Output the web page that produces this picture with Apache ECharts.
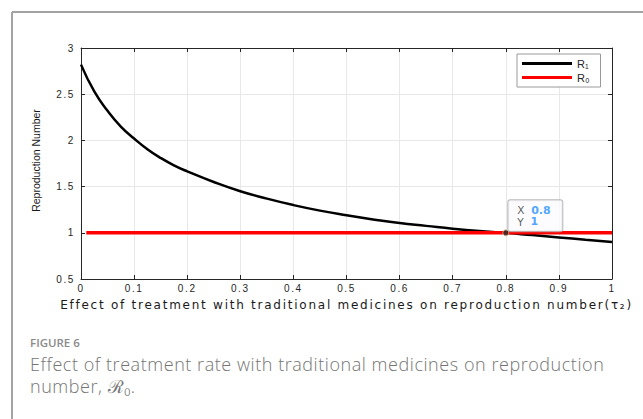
<!DOCTYPE html>
<html>
<head>
<meta charset="utf-8">
<script src="https://cdn.jsdelivr.net/npm/echarts@6/dist/echarts.min.js"></script>
<style>
  html, body { margin: 0; padding: 0; background: #fff; }
  #chart { width: 643px; height: 419px; }
</style>
</head>
<body>
<div id="chart"></div>
<script>
// Treatment effect tau2 and the resulting reproduction number R1
const tauR1 = [0, 0.025, 0.05, 0.075, 0.1, 0.125, 0.15, 0.175, 0.2, 0.25, 0.3, 0.35, 0.4,
               0.45, 0.5, 0.55, 0.6, 0.65, 0.7, 0.75, 0.8, 0.85, 0.9, 0.95, 1];
const r1Values = [2.82, 2.53, 2.32, 2.15, 2.02, 1.905, 1.81, 1.73, 1.665, 1.55, 1.45, 1.37, 1.30,
                  1.24, 1.19, 1.145, 1.105, 1.075, 1.045, 1.02, 1.00, 0.975, 0.95, 0.925, 0.90];
// Baseline reproduction number R0
const tauR0 = [0.01, 1];
const r0Values = [1, 1];
// Data tip marking the crossing point
const tipX = 0.8;
const tipY = 1;

const seriesNames = ['R\u2081', 'R\u2080'];
const xAxisTitle = 'Effect of treatment with traditional medicines on reproduction number(\u03c4\u2082)';
const yAxisTitle = 'Reproduction Number';
const figureLabel = 'FIGURE 6';
const captionLines = ['Effect of treatment rate with traditional medicines on reproduction',
                      'number, \u211b\u2080.'];

const zip = (xs, ys) => xs.map((x, i) => [x, ys[i]]);

// Texts that get extra tracking are picked out by these family lists
const TICK_FAMILY = 'Liberation Sans, Arial, Helvetica, sans-serif';
const XNAME_FAMILY = 'DejaVu Sans, Verdana, sans-serif';
const CAPTION_FAMILY = '"Open Sans", Lato, sans-serif';
const tickFont = { color: '#262626', fontSize: 10, fontFamily: TICK_FAMILY };
const gridColor = '#e8e8e8';

const chart = echarts.init(document.getElementById('chart'), null, { renderer: 'svg' });
chart.setOption({
  animation: false,
  backgroundColor: '#fff',
  grid: { left: 81, top: 48, right: 31, bottom: 140, containLabel: false },
  legend: {
    orient: 'vertical',
    left: 517, top: 54,
    padding: [4, 11, 4, 5],
    itemGap: 3,
    itemWidth: 50, itemHeight: 3,
    icon: 'rect',
    backgroundColor: '#fff',
    borderColor: '#9a9a9a', borderWidth: 1,
    textStyle: { color: '#262626', fontSize: 11, fontFamily: 'Liberation Sans, Arial, sans-serif' },
    data: seriesNames
  },
  xAxis: [{
    type: 'value', min: 0, max: 1, interval: 0.1, position: 'bottom',
    name: xAxisTitle, nameLocation: 'middle', nameGap: 20,
    nameTextStyle: { color: '#1a1a1a', fontSize: 12, fontFamily: XNAME_FAMILY },
    axisLine: { show: true, onZero: false, lineStyle: { color: '#262626', width: 1 } },
    axisTick: { show: true, inside: true, length: 4, lineStyle: { color: '#262626' } },
    axisLabel: Object.assign({ margin: 4 }, tickFont),
    splitLine: { show: true, lineStyle: { color: gridColor, width: 1 } }
  }, {
    type: 'value', min: 0, max: 1, interval: 0.1, position: 'top',
    axisLine: { show: true, onZero: false, lineStyle: { color: '#262626', width: 1 } },
    axisTick: { show: true, inside: true, length: 4, lineStyle: { color: '#262626' } },
    axisLabel: { show: false },
    splitLine: { show: false }
  }],
  yAxis: [{
    type: 'value', min: 0.5, max: 3, interval: 0.5, position: 'left',
    name: yAxisTitle, nameLocation: 'middle', nameGap: 40, nameRotate: 90,
    nameTextStyle: { color: '#1a1a1a', fontSize: 10.5, fontFamily: 'Liberation Sans Narrow, Liberation Sans, Arial, sans-serif',
                     padding: [0, 0, 0, 6] },
    axisLine: { show: true, onZero: false, lineStyle: { color: '#262626', width: 1 } },
    axisTick: { show: true, inside: true, length: 4, lineStyle: { color: '#262626' } },
    axisLabel: Object.assign({ margin: 6 }, tickFont),
    splitLine: { show: true, lineStyle: { color: gridColor, width: 1 } }
  }, {
    type: 'value', min: 0.5, max: 3, interval: 0.5, position: 'right',
    axisLine: { show: true, onZero: false, lineStyle: { color: '#262626', width: 1 } },
    axisTick: { show: true, inside: true, length: 4, lineStyle: { color: '#262626' } },
    axisLabel: { show: false },
    splitLine: { show: false }
  }],
  series: [{
    name: seriesNames[0], type: 'line', xAxisIndex: 0, yAxisIndex: 0,
    data: zip(tauR1, r1Values), smooth: true, showSymbol: false,
    color: '#000', lineStyle: { color: '#000', width: 2.5 }, z: 3
  }, {
    name: seriesNames[1], type: 'line', xAxisIndex: 0, yAxisIndex: 0,
    data: zip(tauR0, r0Values), showSymbol: false,
    color: '#ff0000', lineStyle: { color: '#ff0000', width: 3.5 }, z: 4
  }, {
    name: 'datatip', type: 'scatter', xAxisIndex: 0, yAxisIndex: 0,
    data: [[tipX, tipY]], symbolSize: 6,
    itemStyle: { color: '#2b2b2b', borderColor: '#d9b98a', borderWidth: 1 },
    z: 10,
    label: {
      show: true,
      position: [6, -29],
      backgroundColor: '#fbfbff',
      borderColor: '#a8a8a8', borderWidth: 1, borderRadius: 2,
      padding: [4, 6, 4, 9],
      width: 39,
      lineHeight: 11.5,
      formatter: p => '{k|X}  {v|' + p.value[0] + '}\n{k|Y}  {v|' + p.value[1] + '}',
      rich: {
        k: { color: '#333', fontSize: 10.5, fontFamily: 'DejaVu Sans, sans-serif', lineHeight: 11.5 },
        v: { color: '#1e8fff', fontSize: 11, fontWeight: 'bold', fontFamily: 'DejaVu Sans, sans-serif', lineHeight: 11.5 }
      }
    }
  }],
  graphic: [
    { type: 'line', shape: { x1: 12, y1: 12, x2: 643, y2: 12 }, style: { stroke: '#a3a3a3', lineWidth: 2 }, silent: true },
    { type: 'line', shape: { x1: 12, y1: 12, x2: 12, y2: 419 }, style: { stroke: '#a3a3a3', lineWidth: 2 }, silent: true },
    { type: 'text', silent: true,
      style: { x: 30, y: 342, verticalAlign: 'middle', text: figureLabel, fill: '#8a8a8a', font: '600 11.5px "Open Sans", sans-serif' } },
    { type: 'text', silent: true,
      style: { x: 30, y: 364, verticalAlign: 'middle', text: captionLines[0],
               fill: '#757575', font: '300 18px ' + CAPTION_FAMILY } },
    { type: 'text', silent: true,
      style: { x: 30, y: 386, verticalAlign: 'middle', text: captionLines[1],
               fill: '#757575', font: '300 18px ' + CAPTION_FAMILY } }
  ]
});

// Extra tracking for the axis texts and the caption
function applyTracking() {
  document.querySelectorAll('#chart svg text').forEach(t => {
    const s = (t.getAttribute('style') || '') + ' ' + (t.getAttribute('font-family') || '');
    if (s.indexOf('Helvetica') >= 0) t.setAttribute('letter-spacing', '1.6px');
    else if (s.indexOf('Verdana') >= 0) t.setAttribute('letter-spacing', '1.75px');
    else if (s.indexOf('Lato') >= 0) t.setAttribute('letter-spacing', '0.55px');
  });
}
chart.on('finished', applyTracking);
applyTracking();
</script>
</body>
</html>
